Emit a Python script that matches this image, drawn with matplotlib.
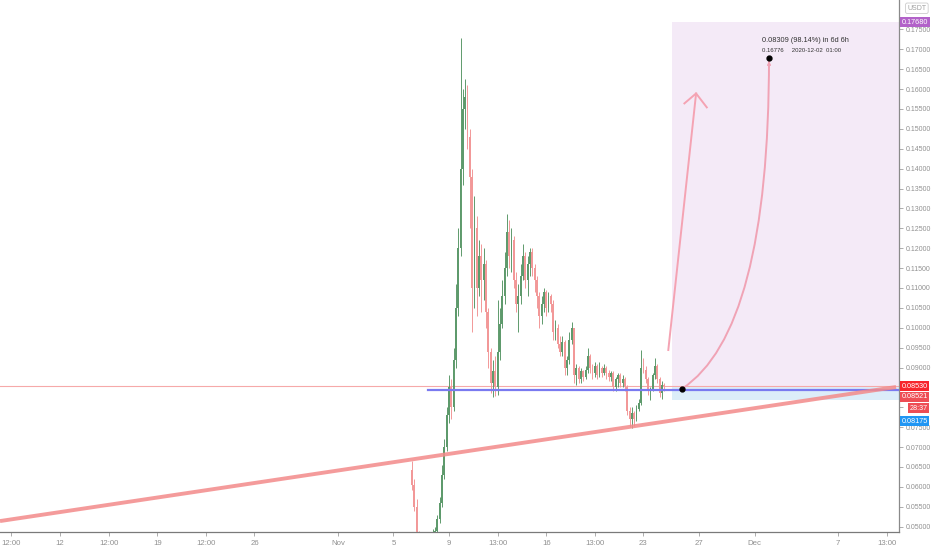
import matplotlib
matplotlib.use('Agg')
import matplotlib.pyplot as plt
import matplotlib.dates as mdates
import matplotlib.transforms as mtransforms
import pandas as pd
from matplotlib.patches import Rectangle, PathPatch
from matplotlib.path import Path

# --- candle data (4h candles) ---
candle_start = '2020-11-06 08:00'
candle_freq = '4h'
first_open = 0.0642
closes = [0.0604, 0.0550, 0.0480, 0.0450, 0.0440, 0.0430, 0.0445, 0.0455, 0.0470, 0.0480,
          0.0490, 0.0520, 0.0560, 0.0630, 0.0700, 0.0780, 0.0850, 0.0800, 0.0920, 0.1050,
          0.1200, 0.1400, 0.1550, 0.1580, 0.1480, 0.1380, 0.1100, 0.1250, 0.1100, 0.1180,
          0.1120, 0.1160, 0.1040, 0.0940, 0.0860, 0.0890, 0.0850, 0.0940, 0.1010, 0.1080,
          0.1150, 0.1240, 0.1180, 0.1220, 0.1120, 0.1060, 0.1080, 0.1130, 0.1180, 0.1120,
          0.1160, 0.1190, 0.1150, 0.1120, 0.1080, 0.1030, 0.1060, 0.1090, 0.1050, 0.1080,
          0.1060, 0.0990, 0.1000, 0.0960, 0.0940, 0.0965, 0.0900, 0.0920, 0.0970, 0.1000,
          0.0880, 0.0900, 0.0870, 0.0890, 0.0875, 0.0895, 0.0930, 0.0900, 0.0885, 0.0905,
          0.0880, 0.0900, 0.0885, 0.0900, 0.0885, 0.0875, 0.0885, 0.0850, 0.0870, 0.0880,
          0.0860, 0.0870, 0.0850, 0.0790, 0.0770, 0.0785, 0.0770, 0.0795, 0.0810, 0.0900,
          0.0895, 0.0870, 0.0840, 0.0845, 0.0880, 0.0905, 0.0870, 0.0835, 0.0855, 0.0853]
highs = [0.0665, 0.0620, 0.0570, 0.0490, 0.0460, 0.0450, 0.0460, 0.0470, 0.0485, 0.0495,
         0.0500, 0.0530, 0.0575, 0.0655, 0.0720, 0.0800, 0.0880, 0.0870, 0.0950, 0.1110,
         0.1250, 0.1728, 0.1600, 0.1625, 0.1610, 0.1500, 0.1400, 0.1330, 0.1280, 0.1220,
         0.1210, 0.1200, 0.1170, 0.1050, 0.0950, 0.0920, 0.0930, 0.1070, 0.1050, 0.1120,
         0.1190, 0.1285, 0.1270, 0.1250, 0.1230, 0.1140, 0.1110, 0.1160, 0.1210, 0.1190,
         0.1180, 0.1200, 0.1200, 0.1160, 0.1130, 0.1090, 0.1080, 0.1100, 0.1095, 0.1090,
         0.1085, 0.1070, 0.1020, 0.1010, 0.0980, 0.0980, 0.0970, 0.0930, 0.0990, 0.1015,
         0.1000, 0.0910, 0.0905, 0.0900, 0.0895, 0.0905, 0.0950, 0.0935, 0.0910, 0.0915,
         0.0910, 0.0915, 0.0905, 0.0910, 0.0905, 0.0895, 0.0890, 0.0890, 0.0875, 0.0885,
         0.0885, 0.0880, 0.0875, 0.0855, 0.0800, 0.0800, 0.0790, 0.0805, 0.0820, 0.0945,
         0.0925, 0.0905, 0.0875, 0.0850, 0.0885, 0.0925, 0.0910, 0.0875, 0.0865, 0.0862]
lows = [0.0592, 0.0540, 0.0470, 0.0430, 0.0420, 0.0410, 0.0420, 0.0430, 0.0440, 0.0460,
        0.0470, 0.0480, 0.0510, 0.0550, 0.0620, 0.0690, 0.0760, 0.0770, 0.0790, 0.0900,
        0.1030, 0.1180, 0.1360, 0.1500, 0.1450, 0.1250, 0.0990, 0.1050, 0.1030, 0.1080,
        0.1040, 0.1070, 0.1000, 0.0900, 0.0835, 0.0826, 0.0828, 0.0830, 0.0920, 0.1000,
        0.1060, 0.1130, 0.1150, 0.1140, 0.1100, 0.1040, 0.0990, 0.1060, 0.1120, 0.1100,
        0.1080, 0.1130, 0.1130, 0.1090, 0.1050, 0.1000, 0.1010, 0.1040, 0.1030, 0.1040,
        0.1040, 0.0970, 0.0970, 0.0950, 0.0930, 0.0930, 0.0880, 0.0880, 0.0910, 0.0960,
        0.0860, 0.0855, 0.0860, 0.0860, 0.0865, 0.0870, 0.0885, 0.0885, 0.0870, 0.0875,
        0.0870, 0.0875, 0.0875, 0.0880, 0.0870, 0.0865, 0.0865, 0.0840, 0.0840, 0.0850,
        0.0850, 0.0850, 0.0840, 0.0780, 0.0750, 0.0748, 0.0752, 0.0765, 0.0790, 0.0805,
        0.0885, 0.0860, 0.0830, 0.0818, 0.0840, 0.0870, 0.0860, 0.0825, 0.0822, 0.0840]

# --- drawings on the chart ---
last_price = 0.0853
support_start = '2020-11-07 12:00'
support_price = 0.0843
trend_times = ['2020-10-07 16:20', '2020-12-11 04:30']
trend_prices = [0.0514, 0.0851]
position_start = '2020-11-25 01:30'
target_price = 0.1768
entry_price = 0.0853
stop_price = 0.08175
arrow_times = ['2020-11-24 19:00', '2020-11-26 19:00']
arrow_prices = [0.0944, 0.1589]
arrow_head_times = ['2020-11-25 22:50', '2020-11-26 19:00', '2020-11-27 13:30']
arrow_head_prices = [0.1564, 0.1589, 0.1554]
# projection curve: start, control point, end (quadratic curve)
curve_times = ['2020-11-25 19:00', '2020-12-02 01:00', '2020-12-02 01:00']
curve_prices = [0.08467, 0.0992, 0.16776]

# --- axes ---
x_range = ['2020-10-07 16:20', '2020-12-11 09:35']
y_range = [0.04865, 0.18239]
x_tick_times = ['2020-10-08 12:00', '2020-10-12', '2020-10-15 12:00', '2020-10-19',
                '2020-10-22 12:00', '2020-10-26', '2020-11-01', '2020-11-05', '2020-11-09',
                '2020-11-12 13:00', '2020-11-16', '2020-11-19 13:00', '2020-11-23',
                '2020-11-27', '2020-12-01', '2020-12-07', '2020-12-10 13:00']
x_tick_labels = ['12:00', '12', '12:00', '19', '12:00', '26', 'Nov', '5', '9',
                 '13:00', '16', '13:00', '23', '27', 'Dec', '7', '13:00']
y_ticks = [0.050, 0.055, 0.060, 0.065, 0.070, 0.075, 0.080, 0.085, 0.090, 0.095, 0.100,
           0.105, 0.110, 0.115, 0.120, 0.125, 0.130, 0.135, 0.140, 0.145, 0.150, 0.155,
           0.160, 0.165, 0.170, 0.175]
# tick labels that sit fully under the price tags
hidden_y_labels = [0.080, 0.085]

# right-hand price tags: (text, y position, colour, x offset)
tag_texts = ['0.17680', '0.08530', '0.08521', '28:37', '0.08175']
tag_y = [0.1768, 0.0853, 0.08259, 0.07982, 0.07655]
tag_colors = ['#b262c9', '#f7252c', '#ee4e55', '#ee4e55', '#2196f3']
tag_x = [1.003, 1.003, 1.003, 1.012, 1.003]

UP = '#5e9a6c'
DOWN = '#f29898'
FONT = 'Liberation Sans'


def d(t):
    return mdates.date2num(pd.Timestamp(t))


def main():
    fig = plt.figure(figsize=(9.32, 5.5), dpi=100)
    ax = fig.add_axes([0, 18 / 550, 899 / 932, 532 / 550])

    times = pd.date_range(candle_start, periods=len(closes), freq=candle_freq)
    x = mdates.date2num(times)
    opens = [first_open] + closes[:-1]
    colors = [UP if c >= o else DOWN for o, c in zip(opens, closes)]
    body_w = 0.13

    # long position zones
    x0 = d(position_start)
    x1 = d(x_range[1]) + 2
    ax.add_patch(Rectangle((x0, entry_price), x1 - x0, target_price - entry_price,
                           fc='#f4eaf7', ec='none', zorder=0))
    ax.add_patch(Rectangle((x0, stop_price), x1 - x0, entry_price - stop_price,
                           fc='#dcedf9', ec='none', zorder=0))

    # candles
    ax.vlines(x, lows, highs, colors=colors, lw=0.7, zorder=2)
    bottoms = [min(o, c) for o, c in zip(opens, closes)]
    heights = [max(abs(c - o), 0.0002) for o, c in zip(opens, closes)]
    ax.bar(x, heights, bottom=bottoms, width=body_w, color=colors, lw=0, zorder=3)

    # price line and support ray
    ax.axhline(last_price, color='#f6a9a9', lw=0.8, zorder=1)
    ax.plot([d(support_start), x1], [support_price, support_price],
            color='#7a7af0', lw=1.6, zorder=4)

    # rising trend line
    ax.plot([d(t) for t in trend_times], trend_prices, color='#f38a8a', lw=2.8,
            alpha=0.85, solid_capstyle='butt', zorder=4)

    # straight arrow
    ax.plot([d(t) for t in arrow_times], arrow_prices, color='#f4a3b3', lw=1.4, zorder=4)
    ax.plot([d(t) for t in arrow_head_times], arrow_head_prices, color='#f4a3b3',
            lw=1.4, zorder=4)

    # projected curve
    cx = [d(t) for t in curve_times]
    curve = Path(list(zip(cx, curve_prices)), [Path.MOVETO, Path.CURVE3, Path.CURVE3])
    ax.add_patch(PathPatch(curve, fc='none', ec='#f0a3b5', lw=1.4, zorder=4))
    ax.annotate('', xy=(cx[-1], curve_prices[-1]), xytext=(cx[-1], curve_prices[-1] - 0.003),
                arrowprops=dict(arrowstyle='->', color='#f0a3b5', lw=1.0,
                                mutation_scale=5), zorder=4)
    ax.plot([cx[0], cx[-1]], [curve_prices[0], curve_prices[-1]], 'o', color='black',
            ms=3.5, zorder=5)
    ax.text(d('2020-12-01 13:30'), 0.1723, '0.08309 (98.14%) in 6d 6h', fontsize=5.3,
            color='#333333', family=FONT, va='center', ha='left', zorder=6)
    ax.text(d('2020-12-01 13:30'), 0.16957, '0.16776     2020-12-02  01:00', fontsize=4.3,
            color='#333333', family=FONT, va='center', ha='left', zorder=6)

    # axes styling
    ax.set_xlim(d(x_range[0]), d(x_range[1]))
    ax.set_ylim(*y_range)
    for s in ['top', 'left']:
        ax.spines[s].set_visible(False)
    ax.spines['bottom'].set_color('#7a7a7a')
    ax.spines['right'].set_color('#8a8a8a')
    ax.spines['bottom'].set_linewidth(0.9)
    ax.spines['right'].set_linewidth(0.9)
    ax.yaxis.tick_right()
    ax.set_yticks(y_ticks)
    ax.set_yticklabels(['' if v in hidden_y_labels else f'{v:.5f}' for v in y_ticks])
    ax.set_xticks([d(t) for t in x_tick_times])
    ax.set_xticklabels(x_tick_labels)
    ax.tick_params(axis='both', colors='#a0a0a0', labelcolor='#909090',
                   length=3, width=0.6, pad=2)
    ax.tick_params(axis='y', labelsize=5.0)
    ax.tick_params(axis='x', labelsize=5.6, pad=3)
    for lab in ax.get_xticklabels() + ax.get_yticklabels():
        lab.set_family(FONT)

    # price tags on the right axis
    trans = mtransforms.blended_transform_factory(ax.transAxes, ax.transData)
    for txt, yv, col, xo in zip(tag_texts, tag_y, tag_colors, tag_x):
        ax.text(xo, yv, txt, transform=trans, fontsize=5.2, color='white', family=FONT,
                va='center', ha='left', clip_on=False, zorder=10,
                bbox=dict(boxstyle='square,pad=0.2', fc=col, ec='none'))
    fig.text(0.9735, 0.985, 'USDT', fontsize=5.0, color='#a0a0a0', family=FONT,
             va='center', ha='left',
             bbox=dict(boxstyle='round,pad=0.25', fc='white', ec='#cccccc', lw=0.6))

    fig.savefig('out.png', dpi=100, facecolor='white')


if __name__ == '__main__':
    main()
